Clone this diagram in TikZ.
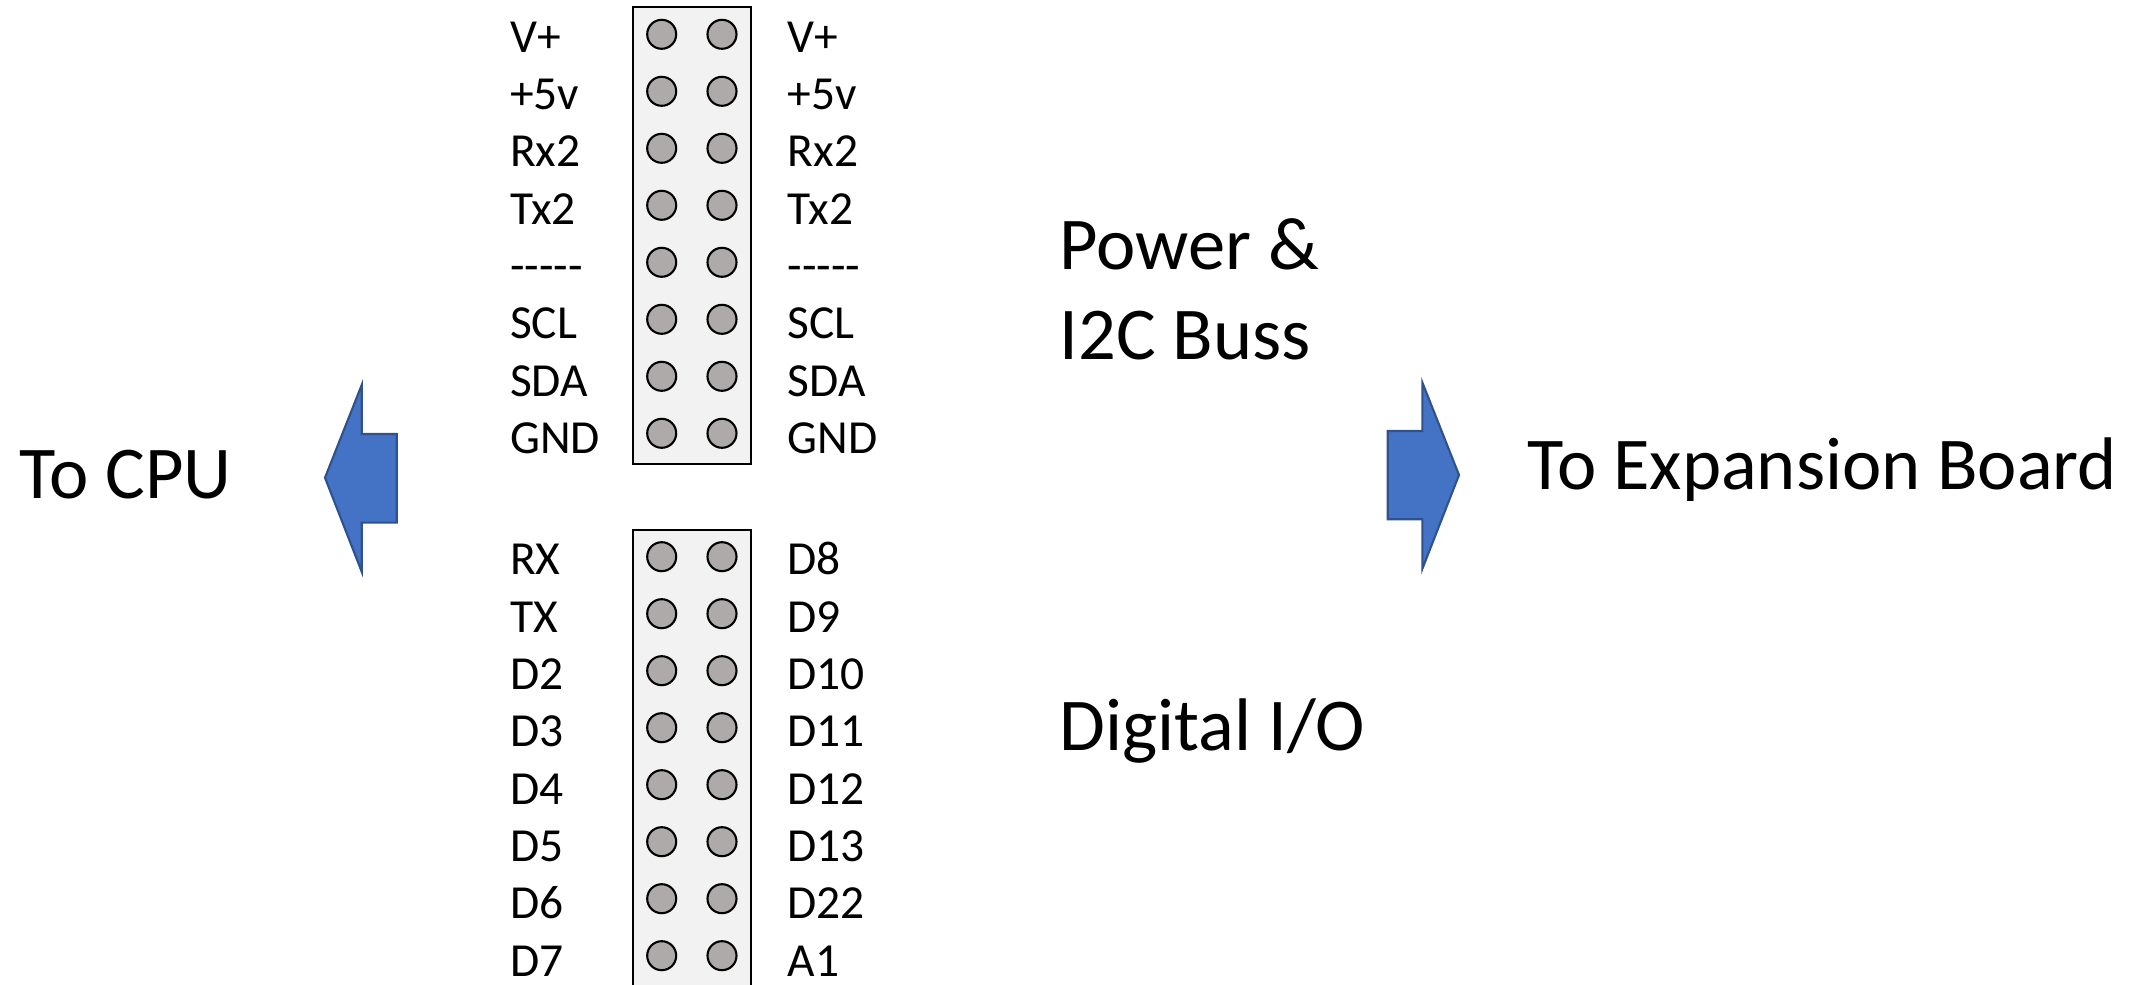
\documentclass[tikz,border=0pt]{standalone}
\usepackage{fontspec}
\setmainfont{Carlito}
\usetikzlibrary{positioning}
\definecolor{hdrbg}{HTML}{F2F2F2}
\definecolor{holegrey}{HTML}{AEAAAA}
\definecolor{arrowblue}{HTML}{4472C4}
\definecolor{arrowedge}{HTML}{2F528F}
\newcommand\nopin{-\kern0pt-\kern0pt-\kern0pt-\kern0pt-}

\begin{document}
\begin{tikzpicture}[
  hdr/.style={draw=black,fill=hdrbg,line width=0.6pt},
  hole/.style={circle,draw=black,fill=holegrey,line width=0.6pt,minimum size=0.29cm,inner sep=0pt},
  lbl/.style={anchor=base west,inner sep=0pt,font=\fontsize{13.5}{16}\selectfont},
  big/.style={anchor=base west,inner sep=0pt,font=\fontsize{21.2}{25}\selectfont},
  blk/.style={fill=arrowblue,draw=arrowedge,line width=0.6pt,line join=miter}]
\useasboundingbox (0,0) rectangle (21.47,-9.85);
\clip (0,0) rectangle (21.47,-9.85);

% headers
\draw[hdr] (6.327,-0.073) rectangle (7.507,-4.643);
\draw[hdr] (6.327,-5.30) rectangle (7.507,-10.3);

\foreach \l/\r [count=\i from 0] in {V+/V+,+5v/+5v,Rx2/Rx2,Tx2/Tx2,\nopin/\nopin,SCL/SCL,SDA/SDA,GND/GND} {
  \node[hole] (pwrL\i) at (6.617,{-0.343-0.57*\i}) {};
  \node[hole] (pwrR\i) at (7.220,{-0.343-0.57*\i}) {};
  \node[lbl] (pwrlblL\i) at (5.095,{-0.523-0.573*\i}) {\l};
  \node[lbl] (pwrlblR\i) at (7.870,{-0.523-0.573*\i}) {\r};
}
\foreach \l/\r [count=\i from 0] in {RX/D8,TX/D9,D2/D10,D3/D11,D4/D12,D5/D13,D6/D22,D7/A1} {
  \node[hole] (dioL\i) at (6.617,{-5.567-0.57*\i}) {};
  \node[hole] (dioR\i) at (7.220,{-5.567-0.57*\i}) {};
  \node[lbl] (diolblL\i) at (5.095,{-5.750-0.573*\i}) {\l};
  \node[lbl] (diolblR\i) at (7.870,{-5.750-0.573*\i}) {\r};
}

% block arrows
\draw[blk] (3.25,-4.777) -- (3.617,-3.85) -- (3.617,-4.34) -- (3.967,-4.34)
  -- (3.967,-5.227) -- (3.617,-5.227) -- (3.617,-5.717) -- cycle;
\draw[blk] (14.59,-4.75) -- (14.223,-3.823) -- (14.223,-4.31) -- (13.877,-4.31)
  -- (13.877,-5.193) -- (14.223,-5.193) -- (14.223,-5.69) -- cycle;

% titles
\node[big] (tocpu) at (0.19,-4.983) {To CPU};
\node[big] (pwrtitle) at (10.59,-2.693) {Power \&};
\node[big] (i2ctitle) at (10.59,-3.593) {I2C Buss};
\node[big] (toexp) at (15.27,-4.90) {To Expansion Board};
\node[big] (digtitle) at (10.59,-7.507) {Digital I/O};
\end{tikzpicture}
\end{document}
